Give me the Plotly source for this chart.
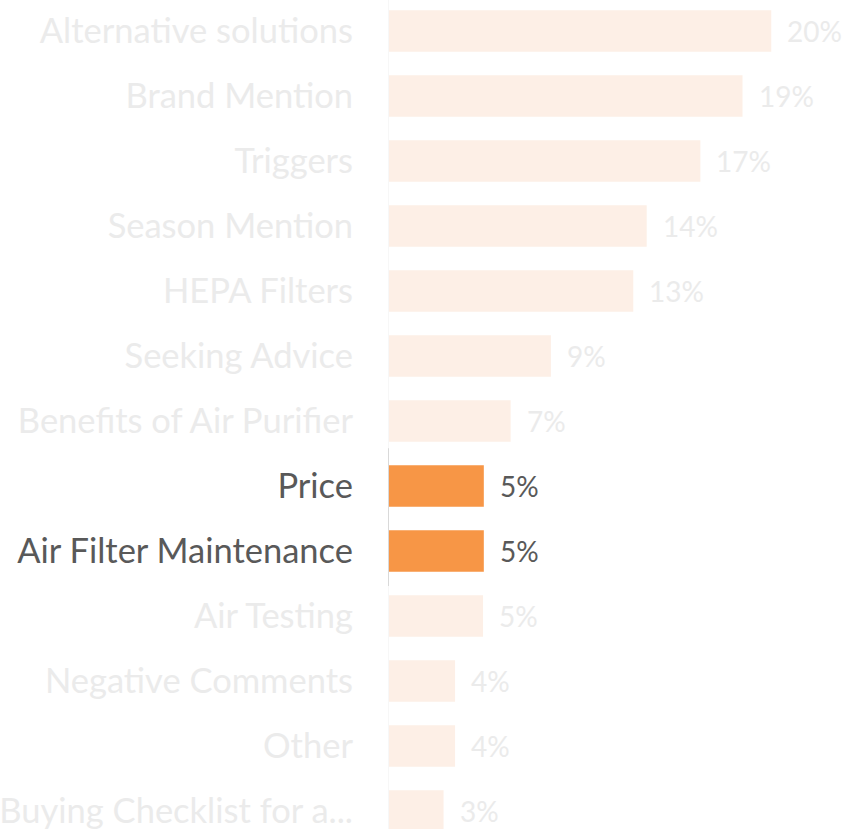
import plotly.graph_objects as go

categories = ["Alternative solutions", "Brand Mention", "Triggers", "Season Mention",
              "HEPA Filters", "Seeking Advice", "Benefits of Air Purifier", "Price",
              "Air Filter Maintenance", "Air Testing", "Negative Comments", "Other",
              "Buying Checklist for a..."]
values = [20.0, 18.5, 16.3, 13.5, 12.8, 8.5, 6.4, 5.0, 5.0, 4.96, 3.5, 3.5, 2.9]
labels = ["20%", "19%", "17%", "14%", "13%", "9%", "7%", "5%", "5%", "5%", "4%", "4%", "3%"]
highlighted = ["Price", "Air Filter Maintenance"]

ORANGE = "#F79646"
FADED_BAR = "#FDEFE6"
FADED_TEXT = "#EBEBEB"
DARK_TEXT = "#595959"
FONT = "Lato"

is_hi = [c in highlighted for c in categories]
bar_colors = [ORANGE if h else FADED_BAR for h in is_hi]
idx = list(range(len(categories)))

fig = go.Figure(go.Bar(
    y=idx, x=values, orientation="h",
    marker=dict(color=bar_colors, line=dict(width=0)),
    hoverinfo="skip",
))

ticktext = [f"<span style='color:{DARK_TEXT if h else FADED_TEXT}'>{c}</span>"
            for c, h in zip(categories, is_hi)]

for i, (v, lab, h) in enumerate(zip(values, labels, is_hi)):
    fig.add_annotation(x=v, y=i, text=lab, showarrow=False, xanchor="left",
                       xshift=14, font=dict(family=FONT, size=28,
                                            color=DARK_TEXT if h else FADED_TEXT))

# axis lines
fig.add_shape(type="line", xref="x", yref="paper", x0=0, x1=0, y0=0, y1=1,
              line=dict(color="#F7F7F7", width=2), layer="above")
hi_idx = [i for i, h in enumerate(is_hi) if h]
fig.add_shape(type="line", xref="x", yref="y", x0=0, x1=0,
              y0=min(hi_idx) - 0.58, y1=max(hi_idx) + 0.54,
              line=dict(color="#D9D9D9", width=2), layer="above")

fig.update_layout(
    width=846, height=829,
    margin=dict(l=388, r=0, t=0, b=0),
    paper_bgcolor="white", plot_bgcolor="white",
    bargap=0.36,
    showlegend=False,
    font=dict(family=FONT),
    xaxis=dict(range=[0, 23.9], visible=False, fixedrange=True),
    yaxis=dict(range=[12.277, -0.477], tickmode="array", tickvals=idx, ticktext=ticktext,
               tickfont=dict(family=FONT, size=34.5), showgrid=False, zeroline=False,
               showline=False, ticks="", ticklabelstandoff=34,
               ticklabeloverflow="allow", fixedrange=True),
)

fig.write_html("out.html", config={"displayModeBar": False},
               post_script="document.body.style.margin='0';")
